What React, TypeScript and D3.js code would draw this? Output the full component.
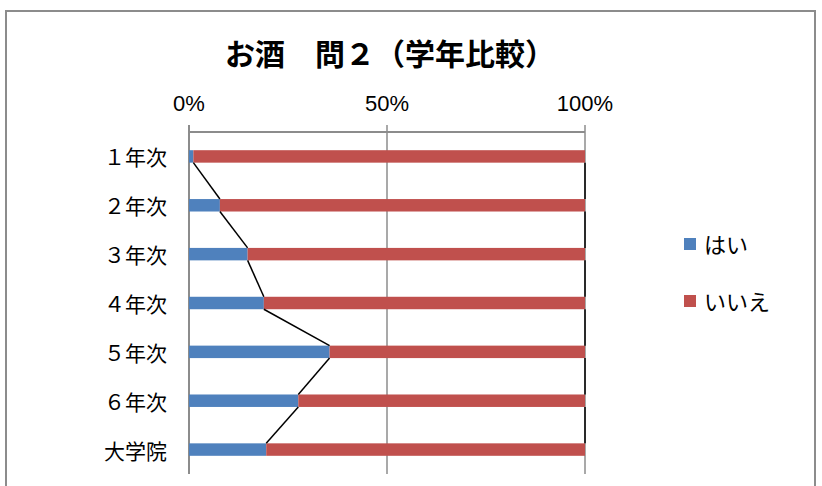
import React from "react";
import * as d3 from "d3";

const categories = ["１年次", "２年次", "３年次", "４年次", "５年次", "６年次", "大学院"];
const yesValues = [1.1, 7.8, 14.8, 18.9, 35.5, 27.6, 19.5];
const noValues = yesValues.map((v) => 100 - v);
const seriesNames = ["はい", "いいえ"];
const seriesColors = ["#4F81BD", "#C0504D"];
const tickValues = [0, 50, 100];
const title = "お酒　問２（学年比較）";

const W = 822;
const H = 486;
const plot = { left: 189, right: 585, top: 132, bottom: 474 };

export default function App() {
  const x = d3.scaleLinear().domain([0, 100]).range([plot.left, plot.right]);
  const y = d3
    .scaleBand<string>()
    .domain(categories)
    .range([plot.top, plot.bottom])
    .paddingInner(0.745)
    .paddingOuter(0.3725);
  const bh = y.bandwidth();

  const stackData = categories.map((c, i) => ({ cat: c, yes: yesValues[i], no: noValues[i] }));
  const stack = d3.stack<any>().keys(["yes", "no"])(stackData);

  const seriesLines: { x1: number; y1: number; x2: number; y2: number }[] = [];
  stack.forEach((layer) => {
    for (let i = 0; i < layer.length - 1; i++) {
      const a = layer[i];
      const b = layer[i + 1];
      seriesLines.push({
        x1: x(a[1]),
        y1: (y(categories[i]) as number) + bh,
        x2: x(b[1]),
        y2: y(categories[i + 1]) as number,
      });
    }
  });

  const jp = "'Noto Sans CJK JP', 'Noto Sans', sans-serif";

  return (
    <svg
      width={W}
      height={H}
      style={{ position: "absolute", left: 0, top: 0, background: "#fff" }}
    >
      <rect x={0} y={0} width={W} height={H} fill="#fff" />
      <path d={`M6,${H + 5} V11 H815 V${H + 5}`} fill="none" stroke="#8c8c8c" strokeWidth={2} />

      <text
        x={390}
        y={52}
        textAnchor="middle"
        dominantBaseline="central"
        fontFamily={jp}
        fontWeight="bold"
        fontSize={30}
        fill="#000"
      >
        {title}
      </text>

      {tickValues.map((t) => (
        <line
          key={"g" + t}
          x1={x(t)}
          x2={x(t)}
          y1={plot.top - 7}
          y2={plot.bottom}
          stroke="#8c8c8c"
          strokeWidth={t === 0 ? 2 : 1.5}
        />
      ))}
      <line x1={plot.left} x2={plot.right} y1={plot.top} y2={plot.top} stroke="#8c8c8c" strokeWidth={2} />
      {tickValues.map((t) => (
        <text
          key={"t" + t}
          x={x(t)}
          y={103}
          textAnchor="middle"
          dominantBaseline="central"
          fontFamily="'Liberation Sans', Arial, sans-serif"
          fontSize={22}
          fill="#000"
        >
          {t + "%"}
        </text>
      ))}

      {stack.map((layer, si) =>
        layer.map((d, i) => (
          <rect
            key={si + "-" + i}
            x={x(d[0])}
            y={y(categories[i]) as number}
            width={x(d[1]) - x(d[0])}
            height={bh}
            fill={seriesColors[si]}
          />
        ))
      )}

      {seriesLines.map((l, i) => (
        <line key={"s" + i} x1={l.x1} y1={l.y1} x2={l.x2} y2={l.y2} stroke="#000" strokeWidth={1.5} />
      ))}

      {categories.map((c) => (
        <text
          key={c}
          x={167}
          y={(y(c) as number) + bh / 2}
          textAnchor="end"
          dominantBaseline="central"
          fontFamily={jp}
          fontSize={21}
          fill="#000"
        >
          {c}
        </text>
      ))}

      {seriesNames.map((n, i) => (
        <g key={n} transform={`translate(684, ${244 + i * 57})`}>
          <rect x={0} y={-6} width={12} height={12} fill={seriesColors[i]} />
          <text
            x={20}
            y={-1}
            dominantBaseline="central"
            fontFamily={jp}
            fontSize={22}
            fill="#000"
          >
            {n}
          </text>
        </g>
      ))}
    </svg>
  );
}
